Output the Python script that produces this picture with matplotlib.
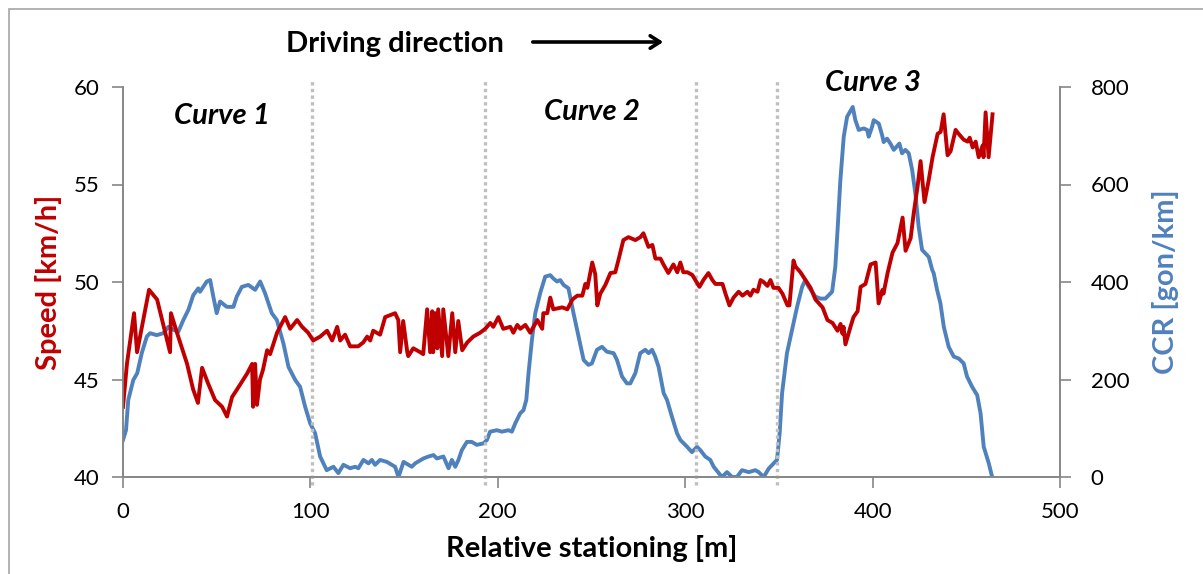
import numpy as np
import matplotlib.pyplot as plt
from matplotlib.patches import Rectangle, FancyArrowPatch

plt.rcParams['font.family'] = ['Lato', 'DejaVu Sans']

# speed profile (red, left axis)
speed_x = [0, 2.1, 5.9, 7.5, 13.9, 18.2, 25.1, 25.6, 28.8, 34.2, 37.4, 40.0, 42.2, 45.4, 49.1,
           52.9, 55.5, 58.2, 60.9, 66.2, 68.9, 69.4, 70.5, 71.5, 73.1, 74.7, 76.9, 78.5, 82.2,
           86.5, 89.2, 92.9, 95.6, 98.8, 101.5, 105.2, 108.9, 111.6, 114.3, 115.9, 118.5, 121.2,
           125.5, 128.2, 130.3, 131.9, 133.5, 137.2, 139.9, 145.2, 146.9, 147.9, 149.5, 151.7,
           152.2, 154.9, 158.6, 160.2, 162.3, 163.9, 165.0, 165.5, 166.6, 167.7, 168.2, 170.3,
           170.9, 173.6, 175.7, 177.3, 178.9, 181.0, 183.7, 186.9, 190.6, 193.3, 196.0, 197.6,
           200.3, 202.9, 206.7, 208.3, 210.4, 212.0, 214.7, 217.3, 221.1, 223.7, 224.3, 226.4,
           228.0, 229.6, 234.4, 237.1, 239.8, 242.4, 245.1, 246.7, 247.8, 250.4, 252.0, 253.1,
           254.7, 257.4, 260.1, 262.7, 264.3, 267.0, 269.7, 273.4, 276.1, 277.7, 280.4, 282.5,
           284.1, 286.8, 288.4, 291.0, 293.7, 295.8, 297.4, 299.0, 301.2, 303.8, 305.4, 307.6,
           309.7, 312.4, 314.5, 316.1, 319.9, 321.5, 323.6, 325.8, 328.5, 330.6, 333.2, 334.8,
           336.4, 338.6, 340.2, 341.8, 343.9, 345.5, 347.1, 349.8, 351.9, 354.6, 355.6, 357.8,
           358.8, 361.5, 364.2, 366.9, 369.5, 373.3, 375.9, 378.6, 381.3, 382.9, 383.9, 384.5,
           385.5, 388.2, 389.8, 392.0, 393.6, 396.2, 398.9, 401.6, 403.2, 405.3, 405.8, 408.0,
           410.6, 413.3, 416.0, 417.6, 420.3, 421.9, 424.0, 425.6, 427.7, 429.9, 432.0, 434.7,
           436.3, 437.9, 440.0, 441.6, 444.3, 445.9, 448.6, 450.7, 451.8, 453.4, 455.0, 456.6,
           458.7, 459.2, 460.3, 461.9, 464.0]
speed = [43.6, 45.8, 48.4, 46.4, 49.6, 49.1, 46.4, 48.4, 47.4, 45.8, 44.5, 43.8, 45.6, 44.8, 43.95,
         43.6, 43.1, 44.1, 44.5, 45.3, 45.8, 43.6, 45.8, 43.7, 45.0, 45.5, 46.5, 46.3, 47.4,
         48.2, 47.6, 48.05, 47.7, 47.4, 47.0, 47.2, 47.5, 47.0, 47.7, 47.0, 47.3, 46.7,
         46.7, 46.9, 47.2, 47.0, 47.5, 47.3, 48.2, 48.4, 48.05, 46.4, 48.0, 46.4,
         46.2, 46.6, 46.4, 46.3, 48.6, 46.4, 48.5, 46.4, 48.4, 46.6, 48.6, 46.2,
         48.6, 46.2, 48.4, 46.4, 48.0, 46.5, 46.9, 47.2, 47.4, 47.6, 47.9, 47.7,
         48.2, 47.6, 47.7, 47.4, 47.8, 47.6, 47.8, 47.4, 48.05, 47.6, 48.4, 48.4,
         49.2, 48.6, 48.7, 48.6, 49.1, 49.3, 49.3, 49.9, 49.7, 51.0, 50.4, 48.8,
         49.4, 49.85, 50.46, 50.5, 51.1, 52.15, 52.3, 52.15, 52.3, 52.5, 51.8, 51.9,
         51.2, 51.2, 50.9, 50.46, 50.9, 50.5, 51.0, 50.5, 50.5, 50.36, 50.1, 49.75,
         50.1, 50.46, 50.1, 49.9, 49.9, 49.4, 48.8, 49.2, 49.5, 49.3, 49.5, 49.3,
         49.6, 49.5, 50.1, 50.0, 49.8, 50.1, 49.7, 49.7, 49.4, 48.8, 48.8, 51.1,
         50.8, 50.5, 50.1, 49.7, 49.1, 48.7, 48.05, 47.9, 47.5, 47.85, 47.35, 47.7,
         46.8, 47.7, 48.2, 48.5, 49.75, 49.9, 50.9, 51.0, 48.9, 49.6, 49.4, 50.46,
         51.5, 52.0, 53.3, 51.6, 52.25, 53.5, 54.9, 56.2, 54.1, 55.2, 56.4, 57.6,
         57.7, 58.6, 56.5, 56.7, 57.8, 57.6, 57.3, 57.2, 57.4, 56.9, 57.2, 56.4,
         57.0, 56.4, 58.7, 56.4, 58.6]

# curvature change rate (blue, right axis)
ccr_x = [0, 1.6, 2.8, 5.5, 7.6, 10.0, 12.7, 14.4, 18.0, 21.5, 24.2, 26.9, 29.5, 32.2, 34.9, 37.5,
         40.2, 41.1, 44.7, 46.5, 48.2, 50.0, 51.8, 55.4, 58.9, 60.7, 63.4, 66.9, 70.5, 73.2,
         75.8, 79.4, 82.1, 85.6, 88.3, 91.9, 94.5, 97.2, 99.9, 102.5, 105.2, 108.7, 112.3,
         114.9, 117.6, 121.2, 123.9, 125.6, 128.3, 131.0, 132.8, 134.5, 137.2, 140.8, 145.2,
         147.0, 149.7, 154.1, 155.9, 160.3, 163.0, 165.7, 167.5, 171.0, 173.7, 175.5, 177.3,
         179.0, 180.8, 183.5, 186.1, 188.8, 192.4, 194.2, 195.9, 199.5, 202.2, 205.7, 207.5,
         209.3, 212.0, 213.7, 215.2, 216.4, 218.2, 220.0, 222.6, 225.3, 228.0, 229.7, 231.6,
         233.3, 235.1, 237.7, 240.4, 243.1, 245.8, 248.4, 250.2, 252.9, 255.6, 258.2, 261.8,
         263.6, 266.3, 268.9, 270.7, 273.4, 276.0, 278.7, 280.5, 282.3, 284.0, 285.8, 288.5,
         290.3, 292.9, 295.6, 297.4, 301.0, 303.6, 306.3, 308.1, 310.7, 313.4, 315.2, 319.6,
         322.3, 325.0, 327.6, 330.3, 333.9, 337.4, 339.2, 341.9, 344.5, 347.2, 349.0, 350.4,
         351.7, 354.3, 357.0, 359.7, 362.4, 364.1, 365.9, 369.5, 372.1, 374.8, 376.6, 378.4,
         380.1, 381.4, 382.8, 384.6, 386.4, 389.4, 390.8, 392.6, 395.3, 397.1, 397.9, 399.7,
         400.6, 403.3, 405.1, 405.9, 407.7, 409.5, 411.3, 414.3, 415.7, 417.5, 419.3, 421.1,
         422.8, 424.6, 426.4, 429.1, 430.0, 431.8, 432.6, 434.4, 436.2, 438.0, 440.6, 443.3,
         446.0, 448.6, 450.4, 453.1, 455.8, 457.6, 459.3, 462.0, 463.8]
ccr = [76, 96, 158, 199, 213, 254, 288, 295, 291, 295, 308, 302, 298, 322, 343, 373,
       387, 380, 401, 404, 370, 336, 360, 349, 349, 370, 390, 394, 384, 401,
       377, 336, 322, 274, 226, 199, 185, 144, 110, 90, 42, 14, 21,
       8, 25, 18, 21, 18, 35, 28, 35, 25, 35, 31, 21,
       0, 31, 21, 28, 38, 42, 45, 38, 42, 18, 35, 21,
       35, 55, 72, 72, 66, 69, 76, 93, 96, 93, 96, 93,
       110, 131, 137, 158, 213, 281, 336, 377, 411, 414, 407, 401,
       404, 394, 387, 336, 288, 240, 230, 233, 261, 267, 257, 254,
       240, 206, 192, 192, 213, 254, 261, 254, 261, 247, 226, 172,
       158, 124, 90, 76, 62, 51, 62, 55, 42, 35, 21, 0,
       10, 0, 0, 14, 10, 14, 10, 0, 17, 28, 35, 90,
       172, 254, 302, 349, 390, 404, 390, 370, 366, 366, 373, 380,
       431, 513, 609, 698, 739, 759, 732, 712, 715, 712, 698, 718,
       732, 725, 701, 687, 694, 684, 671, 684, 664, 671, 664, 630,
       582, 513, 466, 455, 451, 425, 418, 384, 356, 308, 267, 247,
       243, 233, 206, 185, 168, 131, 62, 28, 0]

section_marks = [101, 193, 306, 349]
curve_names = ['Curve 1', 'Curve 2', 'Curve 3']
curve_pos = [(53, 58.5), (250, 58.7), (400, 60.2)]

fig = plt.figure(figsize=(12.03, 5.74), dpi=100)
fig.patches.append(Rectangle((9 / 1203, -0.01), 1.1, 1 - 9 / 574 + 0.01, transform=fig.transFigure,
                             fill=False, edgecolor='#a6a6a6', linewidth=1.2))
ax = fig.add_axes([123 / 1203, 1 - 477 / 574, (1060 - 123) / 1203, (477 - 87) / 574])
ax2 = ax.twinx()
ax.set_zorder(ax2.get_zorder() + 1)
ax.patch.set_visible(False)

for m in section_marks:
    ax.axvline(m, ymin=-0.02, ymax=1.02, color='#bfbfbf', linestyle=(0, (1, 1)), linewidth=2.4, clip_on=False, zorder=1)

ax2.plot(ccr_x, ccr, color='#4f81bd', linewidth=2.8, solid_joinstyle='round')
ax.plot(speed_x, speed, color='#c00000', linewidth=2.8, solid_joinstyle='round')

ax.set_xlim(0, 500)
ax.set_ylim(40, 60)
ax2.set_ylim(0, 800)
ax.set_xticks(np.arange(0, 501, 100))
ax.set_yticks(np.arange(40, 61, 5))
ax2.set_yticks(np.arange(0, 801, 200))

for a in (ax, ax2):
    a.spines['top'].set_visible(False)
    for s in ('left', 'right', 'bottom'):
        a.spines[s].set_color('#868686')
        a.spines[s].set_linewidth(1.2)
    a.tick_params(colors='#868686', labelcolor='black', labelsize=16, length=8, width=1.2)
ax.tick_params(axis='x', pad=10)
ax.tick_params(axis='y', pad=9)
ax2.tick_params(axis='y', pad=14)

ax.set_xlabel('Relative stationing [m]', fontsize=21, fontweight='bold', labelpad=9)
ax.set_ylabel('Speed [km/h]', fontsize=21, fontweight='bold', color='#c00000', labelpad=8)
ax2.set_ylabel('CCR [gon/km]', fontsize=21, fontweight='bold', color='#4f81bd', labelpad=16)

for name, (x, y) in zip(curve_names, curve_pos):
    ax.text(x, y, name, fontsize=21, fontweight='bold', style='italic', ha='center', va='center')

fig.text(395 / 1203, 1 - 44 / 574, 'Driving direction', fontsize=21, fontweight='bold', ha='center', va='center')
fig.patches.append(FancyArrowPatch((530 / 1203, 1 - 42 / 574), (666 / 1203, 1 - 42 / 574),
                   transform=fig.transFigure, arrowstyle='->,head_length=7,head_width=4.5', linewidth=2.6, color='black'))

fig.savefig('out.png', dpi=100)
